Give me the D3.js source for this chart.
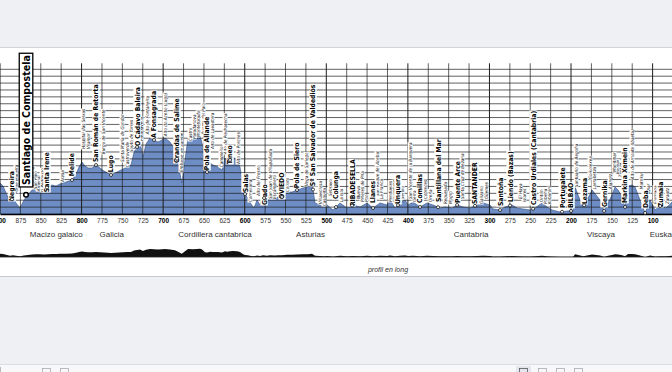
<!DOCTYPE html>
<html><head><meta charset="utf-8">
<script src="https://cdn.jsdelivr.net/npm/d3@7"></script>
<style>
html,body{margin:0;padding:0;background:#eff0f4;overflow:hidden}
svg{display:block}
</style></head><body>
<svg id="c" width="672" height="372"></svg>
<script>
// ---- data ----
const profileKm = [900,896.3,891.4,887.7,884.1,880.4,875.5,870.6,865.7,860.8,855.9,851,846.1,841.2,836.2,831.3,826.4,819.1,811.7,806.8,803.1,799.5,795.8,792.1,787.2,782.3,777.4,772.5,767.6,763.9,759,754.1,749.2,744.3,739.4,735.7,732,728.4,724.7,721,716.1,711.2,706.3,701.4,697.7,691.6,685.5,681.8,677.2,673.2,669.5,663.4,658.5,654.8,652.3,648.7,646.2,642.5,638.9,632.7,627.8,624.2,621.7,618,614.3,609.4,605.8,602,599.6,596,592.3,588.6,584.9,581.2,577.6,572.7,569,562.9,559.2,554.3,548.1,542,535.9,528.5,522.4,517.5,513.8,507.7,502.8,499.1,491.7,483.2,474.6,467.2,458.6,450,442.7,434.1,425.5,421.9,415.7,409.6,403.5,399.8,393.7,385.1,376.5,369.1,360.6,354.4,345.8,339.7,332.4,323.8,315.2,307.8,299.3,295.6,287,280.9,272.3,266.2,258.8,250.2,244.1,235.5,229.4,223.2,213.4,203.6,197.5,195,191.4,185.2,180.3,174.2,169.3,164.4,159.5,154.6,149.7,146,142.3,137.4,133.8,130.1,125.2,121.5,115.4,109.2,103.1,97,90.8,83.5,76.1,66.3];
const profileElev = [450,406,276,174,232,160,87,203,276,348,377,392,363,392,421,406,435,464,493,580,682,755,696,667,667,711,667,624,595,566,595,624,653,682,711,900,972,1045,827,1016,1103,1074,1045,1074,1103,1045,929,740,450,784,1103,1074,1103,1132,1030,667,609,740,711,682,638,813,725,784,827,784,682,392,290,232,145,87,203,131,247,189,247,203,247,247,319,319,348,377,392,450,160,131,102,131,58,160,87,131,102,160,87,160,131,203,87,160,203,131,174,102,160,131,87,102,87,131,102,87,131,160,131,73,58,102,131,87,73,58,87,160,102,58,29,44,44,392,276,102,203,348,276,203,44,160,276,392,348,247,102,406,421,392,203,15,203,58,116,87,174,203];

const tickKm = d3.range(900, 74, -25);
const tickLabelKm = d3.range(900, 99, -25);

const regionNames = ["Macizo galaico","Galicia","Cordillera cantabrica","Asturias","Cantabria","Viscaya","Euskadi"];
const regionKm = [831,763,636.4,519.3,322.6,163.2,86];

const placeNames = ["Santiago de Compostela","Negreira","Santa Irene","Melide","San Román de Retorta","Lugo","O Cádavo Baleira","A Fonsagrada","Grandas de Salime","Pola de Allande","Tineo","Salas","Grado","OVIEDO","Pola de Siero","Sº San Salvador de Valdediós","Colunga","RIBADESELLA","Llanes","Unquera","Comillas","Santillana del Mar","Puente Arce","SANTANDER","Santoña","Liendo (Bazas)","Castro Urdiales (Cantabria)","Portugalete","BILBAO","Lezama","Gernika","Markina Xemein","Deba","Zumaia",
"Ponte Maceira","Lavacolla","San Paio","Amenal","O Pedrouzo","Arzúa","Hospital das Seixas","Vilamor","Burgo de San Vicente","Santa María de Gondar","Castroverde","Souto de Torres","Vilabade","Paradavella","Alto de Fontaneira","Alto do Acebo (Lugo)","Embalse de Salime","Castro","Paradanova","Montefurado","Puerto del Palo","Alto de Lavadoira","Campiello","Alto de Piedratecha","Alto de Porciles","Cornellana","Alto del Fresno","San Juan de Villapañada","Escamplero","Colloto","Vega de Sariego","Villaviciosa","Casquita","Sebrayo","La Isla","Nueva","Piñeres de Pría","Poo","San Roque del Acebal","La Franca","Pendueles","Colombres","Serdio","San Vicente de la Barquera","Gerra","Cóbreces","Oreña","Requejada","Mogro","Santa Cruz de Bezana","Galizano","Güemes","El Haya","Islares","Ontón","Pobeña","Kobaron","Santuario de Begoña","Goikolexea","Larrabetzu","Ajangiz","Munitibar","Bolibar","Ziortza","Alto de Arnoate (Ibaeta)","Mutriku","Itziar","Elorriaga","Zarautz"];
const placeKm = [868.1,885.3,842.4,811.7,782.3,763.9,732,711.2,683,646.2,618,599.6,576.3,554.3,535.9,516.3,488.1,468.4,442.7,412.1,385.1,363,339.7,317.7,287,274.7,246.5,211,200,184,159.5,133.8,109.2,90.8,
880.4,860.8,857.1,853.4,848.5,824,798.2,792.1,773.7,750.4,744.3,739.4,735.7,727.1,719.8,697.7,678.1,667,662.2,657.3,651.1,640.1,629.1,624.2,608.2,593.5,583.7,569,564.1,548.1,524.8,507.7,502.8,495.4,481.9,461.1,456.2,451.3,437.8,432.9,421.9,417,407.1,397.3,392.4,378.9,372.8,354.4,348.3,333.6,310.3,304.2,262.5,257.6,236.7,231.8,226.9,193.8,176.7,171.8,152.1,147.2,143.6,139.9,125.2,114.1,105.6,97,82.3];
const placeBase = [320,131,261,493,697,551,929,1045,682,580,667,261,73,160,319,348,160,58,102,87,102,116,102,87,58,116,73,29,29,87,44,102,29,44,
276,392,348,319,305,450,929,929,856,740,667,885,929,1045,1146,1117,595,1045,1074,1103,1146,929,667,856,711,160,247,203,203,305,392,131,102,247,160,203,160,160,247,203,160,160,203,203,160,203,160,131,131,203,131,203,203,160,160,131,131,377,493,348,348,595,566,522,493,348,276,131,131];
const placeRank = [2].concat(d3.range(33).map(()=>1), d3.range(69).map(()=>0));

// ---- drawing ----
const svg = d3.select("#c");
svg.append("rect").attr("width",672).attr("height",372).attr("fill","#eff0f4");
svg.append("rect").attr("y",48).attr("width",672).attr("height",228).attr("fill","#ffffff");
svg.append("line").attr("x1",0).attr("x2",672).attr("y1",47.5).attr("y2",47.5).attr("stroke","#d3d4d8");
svg.append("line").attr("x1",0).attr("x2",672).attr("y1",276.5).attr("y2",276.5).attr("stroke","#c8c9ce");
svg.append("rect").attr("y",365).attr("width",672).attr("height",7).attr("fill","#f8f8fa");
svg.append("line").attr("x1",0).attr("x2",672).attr("y1",364.5).attr("y2",364.5).attr("stroke","#dcdde1");
// toolbar icons
const tb = svg.append("g").attr("fill","none").attr("stroke","#a9abb1").attr("stroke-width",0.8);
tb.append("line").attr("x1",0.5).attr("x2",0.5).attr("y1",367).attr("y2",372);
tb.append("rect").attr("x",516).attr("y",366).attr("width",15).attr("height",8).attr("fill","#e3e6ec").attr("stroke","none");
[[42,368],[60,368],[519,368],[538,368],[556,368],[574,368]].forEach(([a,b])=>{
  tb.append("rect").attr("x",a+0.5).attr("y",b+0.5).attr("width",8).attr("height",6).attr("stroke", a===519?"#55575d":"#a9abb1");
});

const x = d3.scaleLinear().domain([900,75]).range([0,673]);
const y = d3.scaleLinear().domain([0,2100]).range([214,69.3]);
const pts = profileKm.map((k,i)=>({km:k, e:profileElev[i]}));

const page = svg.append("g");
// profile
page.append("path").datum(pts)
  .attr("d", d3.area().x(d=>x(d.km)).y0(y(0)).y1(d=>y(d.e)))
  .attr("fill","#6d8dc4").attr("stroke","#2f4f86").attr("stroke-width",0.6);

// grid
page.append("g").selectAll("line").data(d3.range(100,2101,100)).join("line")
  .attr("x1",0).attr("x2",672).attr("y1",d=>y(d)).attr("y2",d=>y(d))
  .attr("stroke","#1e1e1e").attr("stroke-width",0.7);
page.append("g").selectAll("line").data(tickKm).join("line")
  .attr("x1",d=>x(d)).attr("x2",d=>x(d)).attr("y1",63.3).attr("y2",y(0))
  .attr("stroke","#1e1e1e").attr("stroke-width",d=>d%100===0?1:0.7);

// axis
const ax = page.append("g").attr("transform",`translate(0,${y(0)})`)
  .call(d3.axisBottom(x).tickValues(tickLabelKm).tickSize(0).tickPadding(4).tickFormat(d3.format("d")));
ax.select(".domain").attr("stroke","#000").attr("stroke-width",1.3);
ax.selectAll("text").attr("font-family","'Liberation Sans',Arial,sans-serif").attr("font-size",6.5)
  .attr("fill",d=>d%100===0?"#000":"#333").attr("font-weight",d=>d%100===0?"bold":"normal");

// regions
page.append("g").selectAll("text").data(regionNames).join("text")
  .attr("x",(d,i)=>x(regionKm[i])).attr("y",237).attr("text-anchor","middle")
  .attr("font-family","'Liberation Sans',Arial,sans-serif").attr("font-size",8).attr("fill","#333")
  .text(d=>d);

// silhouette
page.append("path").datum(pts)
  .attr("d", d3.area().x(d=>x(d.km)).y0(257).y1(d=>257 - d.e*0.0072))
  .attr("fill","#111");
page.append("line").attr("x1",0).attr("x2",672).attr("y1",257).attr("y2",257).attr("stroke","#222").attr("stroke-width",0.8);
page.append("text").attr("x",388).attr("y",271.5).attr("text-anchor","middle")
  .attr("font-family","'Liberation Sans',Arial,sans-serif").attr("font-style","italic").attr("font-size",7).attr("fill","#333")
  .text("profil en long");

// labels
const bis = d3.bisector(d=>-d.km).left;
function elevAt(k){
  const i = Math.max(1, Math.min(pts.length-1, bis(pts, -k)));
  const a = pts[i-1], b = pts[i];
  const t = (k - a.km)/(b.km - a.km);
  return a.e + t*(b.e - a.e);
}
const places = placeNames.map((n,i)=>({name:n, km:placeKm[i], base:placeBase[i], rank:placeRank[i]}));
const fsz = r => r===2 ? 10.5 : r===1 ? 6.8 : 4.6;
const lg = page.append("g").attr("font-family","'Liberation Sans Narrow','DejaVu Sans Condensed','Arial Narrow',sans-serif");
places.slice().reverse().forEach(p=>{
  const s = fsz(p.rank);
  const off = p.rank===2 ? 5 : p.rank===1 ? 3.5 : 0.5;
  const g = lg.append("g").attr("transform",`translate(${x(p.km)},${y(p.base)-off}) rotate(-90)`);
  const t = g.append("text").attr("x", p.rank===2?2:0.4).attr("dy","0.36em")
    .attr("font-size",s).attr("font-weight",p.rank?"bold":"normal")
    .attr("font-style",p.rank?"normal":"italic").attr("fill","#000").text(p.name);
  const w = t.node().getComputedTextLength();
  const pad = p.rank===2?2:0.4;
  g.insert("rect","text").attr("x",0).attr("y",-s*0.55 - (p.rank===2?1:0)).attr("width",w+2*pad)
    .attr("height",s*1.1 + (p.rank===2?2:0)).attr("fill","#fff")
    .attr("stroke",p.rank===2?"#000":"none").attr("stroke-width",1.3);
});
// markers
lg.append("g").selectAll("circle").data(places.filter(p=>p.rank>0)).join("circle")
  .attr("cx",d=>x(d.km)).attr("cy",d=>y(d.rank===2?d.base-40:elevAt(d.km)))
  .attr("r",d=>d.rank===2?2.3:1.5).attr("fill","#fff").attr("stroke","#000")
  .attr("stroke-width",d=>d.rank===2?1.5:0.7);
</script>
</body></html>
